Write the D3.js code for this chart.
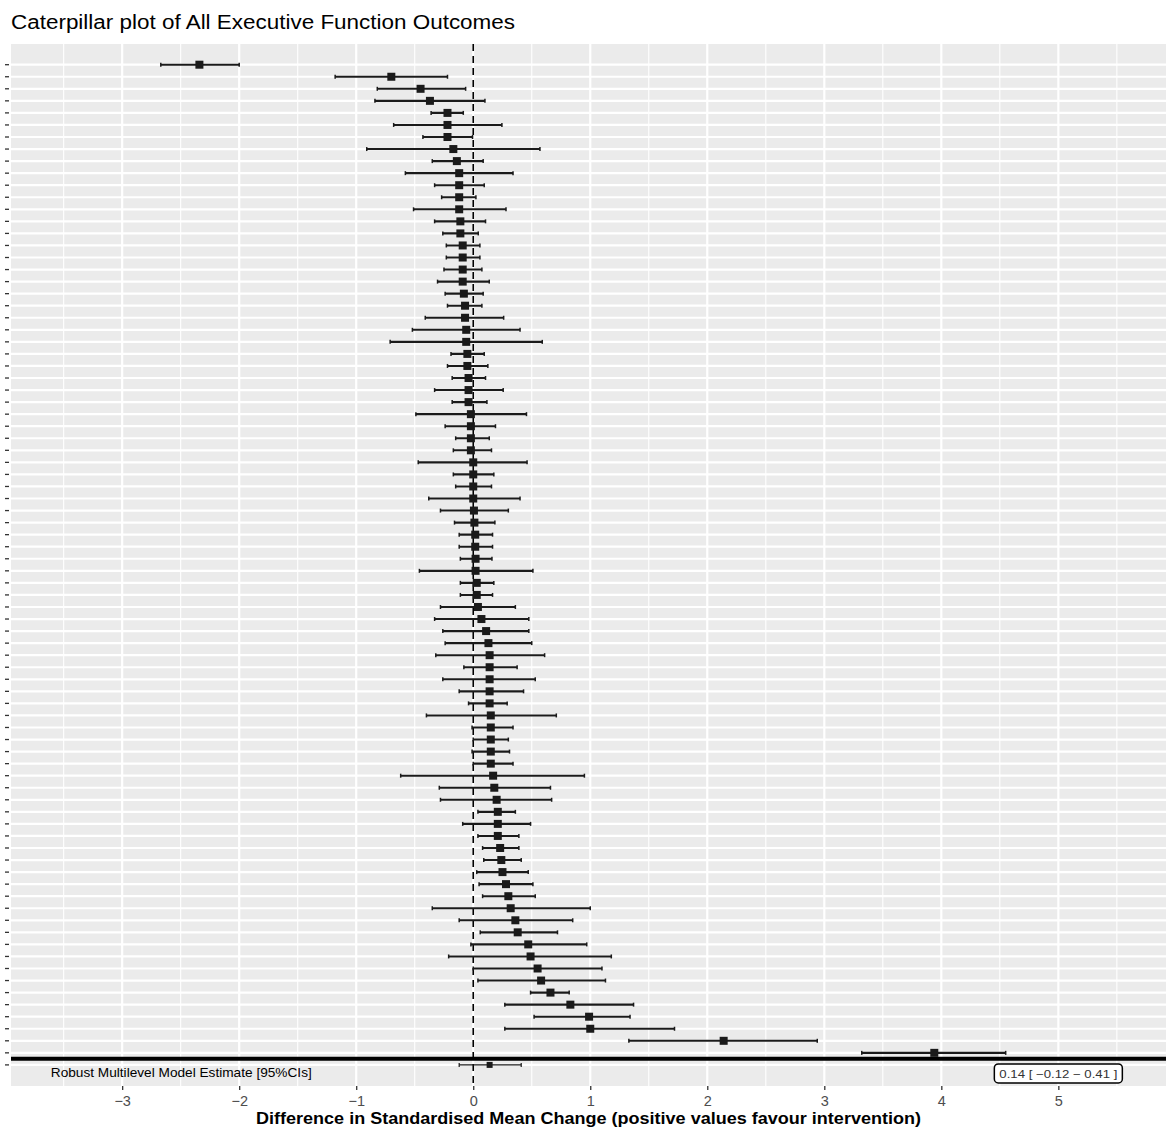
<!DOCTYPE html>
<html lang="en">
    <head>
        <meta charset="UTF-8">
        <script src="https://unpkg.com/d3@7/dist/d3.min.js"></script>
        <title>Caterpillar plot</title>
        <style>
            body { margin: 0; background: #fff; }
            text { font-family: "Liberation Sans", Arial, sans-serif; }
        </style>
    </head>
    <body>
        <script type="text/javascript">
            // Study estimates, sorted top to bottom
            var estimate = [-2.34, -0.70, -0.45, -0.37, -0.22, -0.22, -0.22, -0.17, -0.14, -0.12,
                -0.12, -0.12, -0.12, -0.11, -0.11, -0.09, -0.09, -0.09, -0.09, -0.08,
                -0.07, -0.07, -0.06, -0.06, -0.05, -0.05, -0.04, -0.04, -0.04, -0.02,
                -0.02, -0.02, -0.02, 0.00, 0.00, 0.00, 0.00, 0.006, 0.01, 0.017,
                0.017, 0.02, 0.02, 0.03, 0.03, 0.04, 0.07, 0.11, 0.13, 0.14,
                0.14, 0.14, 0.14, 0.14, 0.15, 0.15, 0.15, 0.15, 0.15, 0.17,
                0.18, 0.20, 0.21, 0.21, 0.21, 0.23, 0.24, 0.25, 0.28, 0.30,
                0.32, 0.36, 0.38, 0.47, 0.49, 0.55, 0.58, 0.66, 0.83, 0.99,
                1.00, 2.14, 3.94];
            var lowerCI = [-2.67, -1.18, -0.82, -0.84, -0.36, -0.68, -0.43, -0.91, -0.35, -0.58,
                -0.33, -0.27, -0.51, -0.33, -0.26, -0.23, -0.23, -0.25, -0.305, -0.24,
                -0.22, -0.41, -0.52, -0.71, -0.19, -0.22, -0.18, -0.33, -0.18, -0.49,
                -0.24, -0.15, -0.17, -0.47, -0.17, -0.15, -0.38, -0.28, -0.16, -0.12,
                -0.12, -0.11, -0.46, -0.11, -0.11, -0.28, -0.33, -0.26, -0.24, -0.32,
                -0.08, -0.26, -0.12, -0.04, -0.40, -0.01, 0.00, -0.01, 0.00, -0.62,
                -0.29, -0.28, 0.04, -0.09, 0.04, 0.08, 0.09, 0.03, 0.05, 0.08,
                -0.35, -0.12, 0.06, -0.02, -0.21, 0.00, 0.04, 0.49, 0.27, 0.52,
                0.27, 1.33, 3.32];
            var upperCI = [-2.00, -0.22, -0.065, 0.10, -0.085, 0.245, -0.006, 0.57, 0.085, 0.34,
                0.094, 0.023, 0.28, 0.105, 0.043, 0.057, 0.057, 0.074, 0.137, 0.085,
                0.074, 0.26, 0.40, 0.59, 0.094, 0.125, 0.105, 0.256, 0.117, 0.455,
                0.19, 0.137, 0.156, 0.46, 0.176, 0.156, 0.40, 0.30, 0.185, 0.165,
                0.165, 0.16, 0.51, 0.176, 0.165, 0.36, 0.475, 0.475, 0.50, 0.61,
                0.375, 0.53, 0.43, 0.29, 0.71, 0.34, 0.30, 0.31, 0.34, 0.95,
                0.66, 0.67, 0.36, 0.49, 0.39, 0.39, 0.41, 0.47, 0.51, 0.53,
                1.00, 0.85, 0.72, 0.97, 1.18, 1.10, 1.13, 0.82, 1.37, 1.34,
                1.72, 2.94, 4.55];

            // Pooled model estimate
            var summaryEst = 0.14;
            var summaryLower = -0.12;
            var summaryUpper = 0.41;
            var summaryText = "Robust Multilevel Model Estimate [95%CIs]";

            var xTicks = [-3, -2, -1, 0, 1, 2, 3, 4, 5];
            var xMinor = [-3.5, -2.5, -1.5, -0.5, 0.5, 1.5, 2.5, 3.5, 4.5, 5.5];

            var titleText = "Caterpillar plot of All Executive Function Outcomes";
            var xLabel = "Difference in Standardised Mean Change (positive values favour intervention)";

            var W = 1166, H = 1128;
            var panel = { left: 11, right: 1166, top: 44, bottom: 1086 };

            var studies = estimate.map(function(d, i) {
                return { row: i, est: d, lo: lowerCI[i], hi: upperCI[i] };
            });
            var nRows = studies.length + 1;

            var svg = d3.select("body")
                .append("svg")
                .attr("width", W)
                .attr("height", H);

            var x = d3.scaleLinear()
                .domain([-3.95, 5.92])
                .range([panel.left, panel.right]);

            var y = d3.scalePoint()
                .domain(d3.range(nRows))
                .range([64.7, 1064.9]);

            // Title
            svg.append("text")
                .attr("x", 11)
                .attr("y", 29)
                .attr("textLength", 504)
                .attr("lengthAdjust", "spacingAndGlyphs")
                .style("font-size", "20px")
                .attr("fill", "#000")
                .text(titleText);

            // Panel background
            svg.append("rect")
                .attr("x", panel.left)
                .attr("y", panel.top)
                .attr("width", panel.right - panel.left)
                .attr("height", panel.bottom - panel.top)
                .attr("fill", "#EBEBEB");

            // Grid lines
            svg.append("g").selectAll("line")
                .data(xMinor)
                .enter().append("line")
                .attr("x1", function(d) { return x(d); })
                .attr("x2", function(d) { return x(d); })
                .attr("y1", panel.top).attr("y2", panel.bottom)
                .attr("stroke", "#fff").attr("stroke-width", 1.1);

            svg.append("g").selectAll("line")
                .data(xTicks)
                .enter().append("line")
                .attr("x1", function(d) { return x(d); })
                .attr("x2", function(d) { return x(d); })
                .attr("y1", panel.top).attr("y2", panel.bottom)
                .attr("stroke", "#fff").attr("stroke-width", 2.2);

            svg.append("g").selectAll("line")
                .data(d3.range(nRows))
                .enter().append("line")
                .attr("x1", panel.left).attr("x2", panel.right)
                .attr("y1", function(d) { return y(d); })
                .attr("y2", function(d) { return y(d); })
                .attr("stroke", "#fff").attr("stroke-width", 2.2);

            // Zero reference line
            svg.append("line")
                .attr("x1", x(0)).attr("x2", x(0))
                .attr("y1", panel.top).attr("y2", panel.bottom)
                .attr("stroke", "#000")
                .attr("stroke-width", 1.6)
                .attr("stroke-dasharray", "7,5");

            // Separator between studies and the pooled estimate
            var sepY = (y(studies.length - 1) + y(studies.length)) / 2;
            svg.append("line")
                .attr("x1", panel.left).attr("x2", panel.right)
                .attr("y1", sepY).attr("y2", sepY)
                .attr("stroke", "#000").attr("stroke-width", 4);

            // Study error bars
            var bars = svg.append("g").selectAll("g")
                .data(studies)
                .enter().append("g")
                .attr("transform", function(d) { return "translate(0," + y(d.row) + ")"; });

            bars.append("line")
                .attr("x1", function(d) { return x(d.lo); })
                .attr("x2", function(d) { return x(d.hi); })
                .attr("stroke", "#1a1a1a").attr("stroke-width", 2.1);
            bars.append("line")
                .attr("x1", function(d) { return x(d.lo); })
                .attr("x2", function(d) { return x(d.lo); })
                .attr("y1", -2).attr("y2", 2)
                .attr("stroke", "#1a1a1a").attr("stroke-width", 1.5);
            bars.append("line")
                .attr("x1", function(d) { return x(d.hi); })
                .attr("x2", function(d) { return x(d.hi); })
                .attr("y1", -2).attr("y2", 2)
                .attr("stroke", "#1a1a1a").attr("stroke-width", 1.5);
            bars.append("rect")
                .attr("x", function(d) { return x(d.est) - 4; })
                .attr("y", -4)
                .attr("width", 8).attr("height", 8)
                .attr("fill", "#1a1a1a");

            // Pooled estimate
            var sy = y(studies.length);
            var sg = svg.append("g").attr("transform", "translate(0," + sy + ")");
            sg.append("line")
                .attr("x1", x(summaryLower)).attr("x2", x(summaryUpper))
                .attr("stroke", "#1a1a1a").attr("stroke-width", 1.3);
            [summaryLower, summaryUpper].forEach(function(v) {
                sg.append("line")
                    .attr("x1", x(v)).attr("x2", x(v))
                    .attr("y1", -2).attr("y2", 2)
                    .attr("stroke", "#1a1a1a").attr("stroke-width", 1.2);
            });
            sg.append("rect")
                .attr("x", x(summaryEst) - 3).attr("y", -3)
                .attr("width", 6).attr("height", 6)
                .attr("fill", "#1a1a1a");

            svg.append("text")
                .attr("x", x(-3.61))
                .attr("y", sy + 12)
                .attr("textLength", 261)
                .attr("lengthAdjust", "spacingAndGlyphs")
                .style("font-size", "13.5px")
                .attr("fill", "#000")
                .text(summaryText);

            // Label box with the pooled value
            var fmt = d3.format(".2f");
            var boxLabel = fmt(summaryEst) + "  [ " + fmt(summaryLower) + "  \u2212  " + fmt(summaryUpper) + " ]";
            var bx = x(5), by = sy + 9;
            svg.append("rect")
                .attr("x", bx - 64).attr("y", by - 10)
                .attr("width", 128).attr("height", 19)
                .attr("rx", 4)
                .attr("fill", "#fff")
                .attr("stroke", "#000").attr("stroke-width", 1.5);
            svg.append("text")
                .attr("x", bx).attr("y", by + 4)
                .attr("text-anchor", "middle")
                .attr("textLength", 118)
                .attr("lengthAdjust", "spacingAndGlyphs")
                .style("font-size", "11.5px")
                .attr("fill", "#333")
                .text(boxLabel);

            // Y axis ticks (no labels)
            svg.append("g").selectAll("line")
                .data(d3.range(nRows))
                .enter().append("line")
                .attr("x1", 5).attr("x2", 9)
                .attr("y1", function(d) { return y(d); })
                .attr("y2", function(d) { return y(d); })
                .attr("stroke", "#333").attr("stroke-width", 1.3);

            // X axis
            var xAxis = svg.append("g")
                .attr("transform", "translate(0," + panel.bottom + ")")
                .call(d3.axisBottom(x).tickValues(xTicks).tickSize(4).tickPadding(6));
            xAxis.select(".domain").remove();
            xAxis.selectAll(".tick line").attr("stroke", "#333").attr("stroke-width", 1.3);
            xAxis.selectAll("text")
                .attr("fill", "#4D4D4D")
                .style("font-size", "14.5px")
                .style("font-family", "'Liberation Sans', Arial, sans-serif");

            svg.append("text")
                .attr("x", (panel.left + panel.right) / 2)
                .attr("y", 1124)
                .attr("text-anchor", "middle")
                .attr("textLength", 665)
                .attr("lengthAdjust", "spacingAndGlyphs")
                .style("font-size", "16px")
                .style("font-weight", "bold")
                .attr("fill", "#000")
                .text(xLabel);
        </script>
    </body>
</html>
